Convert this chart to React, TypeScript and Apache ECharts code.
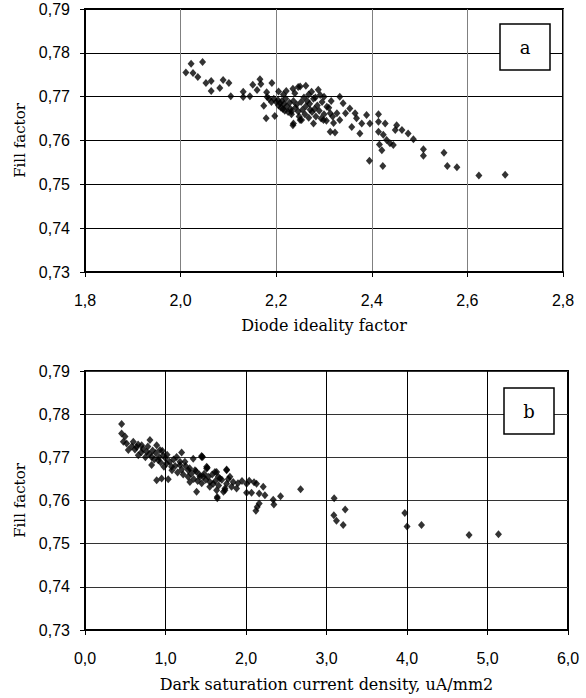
import React, { useEffect, useRef } from "react";
import * as echarts from "echarts";

// Chart a: diode ideality factor vs fill factor
const idealityX: number[] = [
  2.011, 2.022, 2.046, 2.026, 2.036, 2.053, 2.064, 2.064, 2.082, 2.089, 2.101, 2.105, 2.131, 2.131, 2.145,
  2.151, 2.160, 2.166, 2.168, 2.191, 2.174, 2.179, 2.197, 2.181, 2.221, 2.235, 2.246, 2.250,
  2.250, 2.239, 2.274, 2.292, 2.333, 2.232, 2.236, 2.253, 2.271, 2.278, 2.306, 2.313, 2.299, 2.313,
  2.323, 2.327, 2.333, 2.354, 2.358, 2.365, 2.368, 2.375, 2.379, 2.389, 2.396, 2.414, 2.414, 2.428,
  2.414, 2.424, 2.431, 2.416, 2.421, 2.395, 2.423, 2.438, 2.445, 2.449, 2.452, 2.463, 2.476, 2.487,
  2.508, 2.508, 2.551, 2.558, 2.578, 2.624, 2.679,
  2.195, 2.200, 2.204, 2.205, 2.208, 2.210, 2.212, 2.214, 2.216, 2.218, 2.220, 2.222, 2.225, 2.228,
  2.230, 2.232, 2.236, 2.240, 2.243, 2.246, 2.248, 2.252, 2.255, 2.258, 2.260, 2.262, 2.265, 2.268,
  2.270, 2.275, 2.278, 2.280, 2.283, 2.286, 2.290, 2.294, 2.296, 2.300, 2.305, 2.310, 2.318, 2.320,
  2.205, 2.215, 2.235, 2.262, 2.268, 2.282, 2.288, 2.300, 2.315, 2.340, 2.345, 2.180, 2.185, 2.190,
];
const idealityFF: number[] = [
  0.7755, 0.7775, 0.7779, 0.7754, 0.7745, 0.7731, 0.7736, 0.7713, 0.7720, 0.7738, 0.7731, 0.7701, 0.7711, 0.7699, 0.7701,
  0.7727, 0.7715, 0.7740, 0.7729, 0.7731, 0.7679, 0.7651, 0.7656, 0.7699, 0.7713, 0.7635, 0.7722, 0.7647,
  0.7723, 0.7708, 0.7711, 0.7704, 0.7700, 0.7666, 0.7639, 0.7647, 0.7670, 0.7639, 0.7677, 0.7662, 0.7647, 0.7620,
  0.7618, 0.7662, 0.7647, 0.7673, 0.7631, 0.7662, 0.7651, 0.7616, 0.7639, 0.7658, 0.7639, 0.7660, 0.7643, 0.7639,
  0.7620, 0.7613, 0.7601, 0.7591, 0.7578, 0.7554, 0.7542, 0.7594, 0.7590, 0.7624, 0.7635, 0.7624, 0.7616, 0.7603,
  0.7580, 0.7565, 0.7572, 0.7542, 0.7539, 0.7520, 0.7522,
  0.7695, 0.7688, 0.7692, 0.7680, 0.7685, 0.7675, 0.7690, 0.7672, 0.7683, 0.7668, 0.7695, 0.7678, 0.7665, 0.7686,
  0.7672, 0.7660, 0.7690, 0.7675, 0.7682, 0.7666, 0.7655, 0.7688, 0.7670, 0.7698, 0.7660, 0.7678, 0.7690, 0.7652,
  0.7684, 0.7665, 0.7695, 0.7672, 0.7655, 0.7680, 0.7668, 0.7650, 0.7688, 0.7660, 0.7645, 0.7675, 0.7655, 0.7640,
  0.7712, 0.7705, 0.7718, 0.7725, 0.7705, 0.7698, 0.7716, 0.7700, 0.7690, 0.7685, 0.7662, 0.7710, 0.7695, 0.7688,
];

// Chart b: dark saturation current density vs fill factor
const darkCurrentX: number[] = [
  0.455, 0.455, 0.497, 0.476, 0.517, 0.600, 0.538, 0.641, 0.704, 0.807, 0.765, 0.662, 0.890, 0.931, 0.828,
  0.910, 0.828, 0.972, 1.014, 0.890, 0.952, 1.034, 1.076, 1.138, 1.200, 1.179, 1.241, 1.283, 1.344, 1.449,
  1.366, 1.303, 1.386, 1.428, 1.511, 1.531, 1.593, 1.635, 1.643, 1.676, 1.759, 1.738, 1.759,
  1.461, 1.511, 1.614, 1.759, 1.469, 1.552, 1.655, 1.635, 1.738, 1.800, 1.841, 1.883, 1.643, 2.007, 2.040,
  2.131, 2.214, 2.007, 2.069, 2.164, 2.235, 2.164, 2.139, 2.123, 2.338, 2.346, 2.429, 2.678,
  3.095, 3.232, 3.091, 3.124, 3.207, 3.973, 4.001, 4.180, 4.771, 5.136,
  0.58, 0.62, 0.66, 0.70, 0.72, 0.75, 0.78, 0.80, 0.84, 0.86, 0.88, 0.92, 0.94, 0.96, 0.98, 1.00,
  1.02, 1.05, 1.08, 1.10, 1.12, 1.15, 1.18, 1.20, 1.22, 1.25, 1.28, 1.30, 1.32, 1.35, 1.38, 1.40,
  1.42, 1.45, 1.48, 1.50, 1.55, 1.58, 1.62, 1.66, 1.70, 1.72, 1.78, 1.82, 1.90, 1.95, 2.10,
  1.519, 1.449,
];
const darkCurrentFF: number[] = [
  0.7777, 0.7755, 0.7748, 0.7736, 0.7732, 0.7736, 0.7717, 0.7724, 0.7728, 0.7740, 0.7713, 0.7705, 0.7728, 0.7717, 0.7701,
  0.7693, 0.7682, 0.7705, 0.7686, 0.7647, 0.7651, 0.7649, 0.7678, 0.7701, 0.7711, 0.7682, 0.7690, 0.7670, 0.7697, 0.7701,
  0.7670, 0.7643, 0.7620, 0.7655, 0.7678, 0.7655, 0.7639, 0.7666, 0.7608, 0.7651, 0.7670, 0.7628, 0.7639,
  0.7701, 0.7674, 0.7666, 0.7672, 0.7655, 0.7643, 0.7655, 0.7624, 0.7624, 0.7655, 0.7643, 0.7628, 0.7605, 0.7639, 0.7646,
  0.7639, 0.7632, 0.7618, 0.7618, 0.7616, 0.7612, 0.7593, 0.7585, 0.7576, 0.7602, 0.7591, 0.7610, 0.7626,
  0.7605, 0.7579, 0.7566, 0.7553, 0.7543, 0.7571, 0.7540, 0.7543, 0.7520, 0.7522,
  0.7725, 0.7718, 0.7730, 0.7712, 0.7720, 0.7700, 0.7725, 0.7708, 0.7716, 0.7695, 0.7710, 0.7700, 0.7688, 0.7715, 0.7678, 0.7698,
  0.7706, 0.7690, 0.7670, 0.7695, 0.7680, 0.7665, 0.7690, 0.7672, 0.7660, 0.7680, 0.7655, 0.7675, 0.7662, 0.7650, 0.7668, 0.7645,
  0.7660, 0.7640, 0.7662, 0.7648, 0.7632, 0.7660, 0.7645, 0.7635, 0.7648, 0.7620, 0.7650, 0.7632, 0.7640, 0.7645, 0.7642,
  0.7676, 0.7703,
];

const fillFactorTicks = { min: 0.73, max: 0.79, interval: 0.01 };
const idealityTicks = { min: 1.8, max: 2.8, interval: 0.2 };
const darkCurrentTicks = { min: 0, max: 6, interval: 1 };

const sans = "'Liberation Sans', Arial, sans-serif";
const serif = "'DejaVu Serif', serif";

const comma = (d: number) => (v: number) => v.toFixed(d).replace(".", ",");

function yAxisCfg(gridIndex: number, splitColor: string) {
  return {
    type: "value",
    gridIndex,
    ...fillFactorTicks,
    name: "Fill factor",
    nameLocation: "middle",
    nameGap: 56,
    nameTextStyle: { fontFamily: serif, fontSize: 15, color: "#000" },
    axisLine: { show: true, lineStyle: { color: "#000", width: 2 } },
    axisTick: { show: true, inside: false, length: 5, lineStyle: { color: "#000", width: 1 } },
    axisLabel: { formatter: comma(2), fontFamily: sans, fontSize: 16, color: "#000", margin: 15 },
    splitLine: { show: true, lineStyle: { color: splitColor, width: 1 } },
  };
}

function xAxisCfg(gridIndex: number, ticks: any, name: string, digits: number, splitColor: string, gap: number) {
  return {
    type: "value",
    gridIndex,
    ...ticks,
    name,
    nameLocation: "middle",
    nameGap: gap,
    nameTextStyle: { fontFamily: serif, fontSize: 16, color: "#000" },
    axisLine: { show: true, lineStyle: { color: "#000", width: 2 } },
    axisTick: { show: true, inside: false, length: 5, lineStyle: { color: "#000", width: 1 } },
    axisLabel: { formatter: comma(digits), fontFamily: sans, fontSize: 16, color: "#000", margin: 20 },
    splitLine: { show: true, lineStyle: { color: splitColor, width: 1 } },
  };
}

export default function App() {
  const ref = useRef<HTMLDivElement>(null);
  useEffect(() => {
    if (!ref.current) return;
    const chart = echarts.init(ref.current, undefined, { renderer: "svg" });
    const pairs = (xs: number[], ys: number[]) => xs.map((x, i) => [x, ys[i]]);
    chart.setOption({
      animation: false,
      backgroundColor: "#fff",
      grid: [
        { left: 85, top: 9, width: 478, height: 263, show: true, borderColor: "#000", borderWidth: 2, backgroundColor: "transparent" },
        { left: 85, top: 371, width: 483, height: 259, show: true, borderColor: "#000", borderWidth: 2, backgroundColor: "transparent" },
      ],
      xAxis: [
        xAxisCfg(0, idealityTicks, "Diode ideality factor", 1, "#808080", 45),
        xAxisCfg(1, darkCurrentTicks, "Dark saturation current density, uA/mm2", 1, "#000", 46),
      ],
      yAxis: [yAxisCfg(0, "#000"), yAxisCfg(1, "#333")],
      series: [
        {
          type: "scatter",
          xAxisIndex: 0,
          yAxisIndex: 0,
          data: pairs(idealityX, idealityFF),
          symbol: "diamond",
          symbolSize: [7, 8],
          itemStyle: { color: "#000" },
        },
        {
          type: "scatter",
          xAxisIndex: 1,
          yAxisIndex: 1,
          data: pairs(darkCurrentX, darkCurrentFF),
          symbol: "diamond",
          symbolSize: [7, 8],
          itemStyle: { color: "#000" },
        },
      ],
      graphic: [
        { type: "rect", shape: { x: 500, y: 24, width: 50, height: 46 }, style: { fill: "#fff", stroke: "#000", lineWidth: 1.5 }, z: 100 },
        { type: "text", x: 525, y: 47, style: { text: "a", font: `18px ${serif}`, fill: "#000", align: "center", verticalAlign: "middle" }, z: 101 },
        { type: "rect", shape: { x: 504, y: 388, width: 50, height: 46 }, style: { fill: "#fff", stroke: "#000", lineWidth: 1.5 }, z: 100 },
        { type: "text", x: 529, y: 411, style: { text: "b", font: `18px ${serif}`, fill: "#000", align: "center", verticalAlign: "middle" }, z: 101 },
      ],
    });
    return () => chart.dispose();
  }, []);
  return (
    <div
      ref={ref}
      style={{ position: "absolute", left: 0, top: 0, width: 586, height: 698, background: "#fff" }}
    />
  );
}
